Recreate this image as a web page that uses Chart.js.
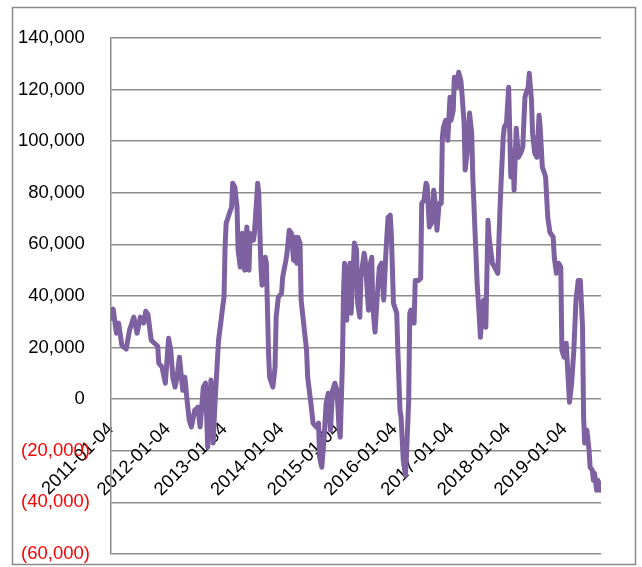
<!DOCTYPE html>
<html>
<head>
<meta charset="utf-8">
<script src="https://cdn.jsdelivr.net/npm/chart.js@4"></script>
<style>
  html, body { margin: 0; padding: 0; background: #fff; }
  #wrap { width: 642px; height: 567px; }
</style>
</head>
<body>
<div id="wrap"><canvas id="netChart" width="642" height="567"></canvas></div>
<script>
// weekly series, week index counted from 2011-01-04
const startDate = '2011-01-04';
const weeks = [0, 2, 5, 7, 10, 14, 17, 21, 24, 27, 30, 32, 34, 37, 40, 43, 44, 47, 50, 53,
  55, 57, 59, 61, 63, 66, 68, 70, 72, 74, 77, 80, 82, 85, 87, 89, 92, 94, 96, 99,
  101, 103, 104, 105, 106, 109, 111, 112, 114, 116, 117, 119, 121, 123, 125, 127, 128, 131, 132, 135,
  136, 138, 139, 142, 143, 145, 146, 149, 151, 152, 154, 157, 158, 161, 162, 164, 166, 168, 169, 171,
  172, 174, 175, 178, 180, 181, 184, 186, 189, 191, 192, 194, 196, 198, 200, 202, 204, 206, 208, 210,
  211, 213, 214, 215, 217, 218, 220, 221, 223, 224, 226, 227, 229, 230, 233, 234, 237, 238, 240, 241,
  243, 245, 247, 249, 251, 253, 255, 257, 258, 260, 263, 264, 266, 267, 269, 271, 272, 274, 275, 276,
  279, 280, 283, 285, 286, 288, 290, 291, 293, 295, 297, 299, 300, 302, 304, 305, 306, 308, 310, 312,
  313, 315, 316, 318, 320, 322, 323, 325, 326, 328, 330, 332, 333, 335, 337, 339, 340, 342, 343, 345,
  347, 348, 351, 353, 356, 358, 359, 361, 362, 364, 366, 368, 370, 371, 373, 375, 377, 379, 381, 382,
  384, 385, 387, 388, 390, 392, 394, 395, 397, 399, 400, 402, 404, 407, 408, 410, 412, 414, 415, 417,
  419, 421, 422, 424, 426, 428, 430, 432, 434, 435, 436, 438, 440, 441, 443, 444, 445, 447, 448, 450, 451];
const values = [31400, 34900, 25600, 29500, 20900, 19400, 26700, 31800, 25600, 31800, 29500, 34100, 32900, 22900, 21700, 20500, 14000, 12400, 6200, 23600,
  19000, 8100, 4700, 9300, 16300, 3500, 8500, -400, -8100, -10800, -4300, -3100, -10800, 4700, 6200, -18600, 7400, -17000, 800, 22900,
  29500, 36400, 39500, 58900, 68200, 72100, 74400, 83700, 82200, 74400, 57800, 51200, 64300, 50000, 66700, 50000, 64300, 61600, 64300, 83700,
  79800, 51200, 44200, 55000, 52700, 17800, 8500, 4700, 12400, 31800, 39500, 41100, 47300, 53900, 56600, 65500, 64300, 53900, 62800, 52700,
  62800, 60500, 38400, 26700, 19000, 8500, -1600, -9300, -10800, -9300, -22500, -26400, -15900, -1600, 2300, -12000, 3500, 6200, 3500, -12000,
  -14700, 14000, 41100, 52700, 30600, 46000, 52700, 33300, 51200, 60500, 57800, 37200, 31800, 47300, 56600, 53900, 34500, 51200, 55000, 35700,
  26000, 39500, 51200, 52700, 38400, 56600, 70500, 71300, 64300, 37200, 33300, 19000, -4300, -7000, -23600, -29500, -21700, -400, 33300, 34500,
  29500, 46000, 46000, 46900, 75900, 77100, 83700, 82900, 66700, 68200, 81000, 74400, 65500, 75900, 75900, 101500, 105400, 108100, 100400, 117000,
  108100, 112000, 124800, 120900, 126700, 123600, 118600, 107000, 88800, 96500, 110900, 103100, 86100, 65500, 45000, 31800, 24000, 37200, 38400, 27900,
  69400, 62800, 52700, 51200, 48800, 73300, 83700, 101500, 105400, 107000, 120900, 86100, 96500, 81000, 105000, 93800, 95300, 97700, 117000, 118600,
  120900, 126300, 115900, 103100, 95300, 93800, 110100, 105400, 89900, 87600, 86100, 70500, 64700, 62800, 55000, 48800, 52700, 51200, 19000, 16300,
  21700, 6200, -1200, 6200, 19000, 38400, 46000, 46000, 27900, -7000, -17000, -12000, -19800, -26400, -27500, -31400, -28700, -35300, -31400, -35300, -32600];
const tickLabels = ['2011-01-04', '2012-01-04', '2013-01-04', '2014-01-04', '2015-01-04',
  '2016-01-04', '2017-01-04', '2018-01-04', '2019-01-04'];
const yTicks = [-60000, -40000, -20000, 0, 20000, 40000, 60000, 80000, 100000, 120000, 140000];

const dayMs = 86400000;
function weekOf(d) {
  return (Date.parse(d) - Date.parse(startDate)) / (7 * dayMs);
}
const tickWeeks = tickLabels.map(weekOf);
const points = weeks.map((w, i) => ({ x: w, y: values[i] }));

function fmt(v) {
  const s = Math.abs(v).toLocaleString('en-US');
  if (v < 0) return '(' + s + ')';
  return s + ' ';
}

// white page + grey outer frame
const framePlugin = {
  id: 'frame',
  beforeDraw(chart) {
    const c = chart.ctx;
    c.save();
    c.fillStyle = '#fff';
    c.fillRect(0, 0, chart.width, chart.height);
    c.restore();
  },
  afterDraw(chart) {
    const c = chart.ctx;
    c.save();
    c.strokeStyle = '#8a8a8a';
    c.lineWidth = 1.5;
    c.strokeRect(12.5, 7.5, 623, 557);
    c.restore();
  }
};

const font = { family: 'Liberation Sans', size: 18.5 };

new Chart(document.getElementById('netChart'), {
  type: 'line',
  data: {
    datasets: [{
      data: points,
      borderColor: '#7d61a1',
      borderWidth: 5,
      borderJoinStyle: 'round',
      borderCapStyle: 'round',
      pointRadius: 0,
      tension: 0,
      fill: false
    }]
  },
  options: {
    responsive: false,
    animation: false,
    layout: { padding: { left: 0, right: 41, top: 38, bottom: 13 } },
    plugins: {
      legend: { display: false },
      tooltip: { enabled: false }
    },
    scales: {
      x: {
        type: 'linear',
        position: { y: 0 },
        min: 0,
        max: weeks[weeks.length - 1],
        afterBuildTicks: (axis) => { axis.ticks = tickWeeks.map(v => ({ value: v })); },
        afterFit: (axis) => { axis.height = 0; axis.paddingLeft = 0; axis.paddingRight = 0; axis.paddingTop = 0; axis.paddingBottom = 0; },
        grid: { display: false },
        border: { display: false },
        ticks: {
          autoSkip: false,
          minRotation: 45,
          maxRotation: 45,
          padding: 11,
          labelOffset: 0,
          color: '#000',
          font: font,
          callback: (v, i) => tickLabels[i]
        }
      },
      y: {
        min: -60000,
        max: 140000,
        afterBuildTicks: (axis) => { axis.ticks = yTicks.map(v => ({ value: v })); },
        afterFit: (axis) => { axis.width = 111; axis.paddingTop = 0; axis.paddingBottom = 0; },
        grid: { color: '#8c8c8c', lineWidth: 1.5, drawTicks: false },
        border: { display: true, color: '#8c8c8c', width: 1.5 },
        ticks: {
          padding: 21,
          font: font,
          color: (ctx) => ctx.tick.value < 0 ? '#ff0000' : '#000',
          callback: (v) => fmt(v)
        }
      }
    }
  },
  plugins: [framePlugin]
});
</script>
</body>
</html>
